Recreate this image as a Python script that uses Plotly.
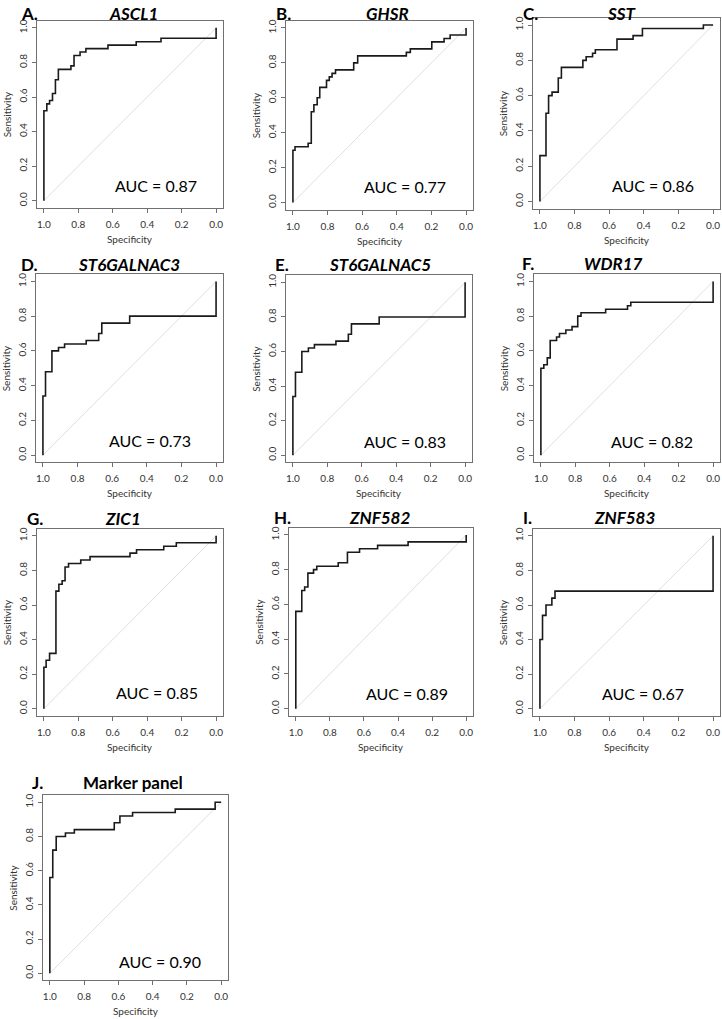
import plotly.graph_objects as go

W, H = 722, 1019

# ---------------- data ----------------
panel_letters = ["A.", "B.", "C.", "D.", "E.", "F.", "G.", "H.", "I.", "J."]
panel_names = ["ASCL1", "GHSR", "SST", "ST6GALNAC3", "ST6GALNAC5", "WDR17",
               "ZIC1", "ZNF582", "ZNF583", "Marker panel"]
auc_values = [0.87, 0.77, 0.86, 0.73, 0.83, 0.82, 0.85, 0.89, 0.67, 0.90]

spec_A = [1.0, 1.0, 0.983, 0.967, 0.95, 0.933, 0.916, 0.843, 0.825, 0.79, 0.756, 0.628, 0.464, 0.32, 0.0]
sens_A = [0.0, 0.52, 0.56, 0.58, 0.62, 0.70, 0.76, 0.78, 0.84, 0.86, 0.88, 0.90, 0.92, 0.94, 1.0]

spec_B = [1.0, 1.0, 0.988, 0.912, 0.894, 0.879, 0.86, 0.845, 0.806, 0.79, 0.774, 0.754, 0.649, 0.626, 0.345, 0.322, 0.198, 0.127, 0.092, 0.0]
sens_B = [0.0, 0.30, 0.32, 0.34, 0.52, 0.56, 0.60, 0.66, 0.70, 0.72, 0.74, 0.76, 0.80, 0.84, 0.86, 0.88, 0.92, 0.94, 0.96, 1.0]

spec_C = [1.0, 1.0, 0.965, 0.95, 0.93, 0.894, 0.876, 0.752, 0.733, 0.696, 0.68, 0.555, 0.462, 0.408, 0.056, 0.0]
sens_C = [0.0, 0.26, 0.50, 0.60, 0.62, 0.70, 0.76, 0.80, 0.82, 0.84, 0.86, 0.92, 0.94, 0.98, 1.0, 1.0]

spec_D = [1.0, 1.0, 0.985, 0.948, 0.91, 0.875, 0.75, 0.678, 0.66, 0.499, 0.0]
sens_D = [0.0, 0.34, 0.48, 0.60, 0.62, 0.64, 0.66, 0.70, 0.76, 0.80, 1.0]

spec_E = [1.0, 1.0, 0.985, 0.948, 0.91, 0.875, 0.75, 0.678, 0.66, 0.499, 0.0]
sens_E = [0.0, 0.34, 0.48, 0.60, 0.62, 0.64, 0.66, 0.70, 0.76, 0.80, 1.0]

spec_F = [1.0, 1.0, 0.983, 0.963, 0.946, 0.909, 0.892, 0.855, 0.819, 0.786, 0.767, 0.624, 0.497, 0.478, 0.0]
sens_F = [0.0, 0.50, 0.52, 0.56, 0.66, 0.68, 0.70, 0.72, 0.74, 0.80, 0.82, 0.84, 0.86, 0.88, 1.0]

spec_G = [1.0, 1.0, 0.987, 0.967, 0.93, 0.913, 0.894, 0.877, 0.857, 0.786, 0.732, 0.5, 0.462, 0.304, 0.231, 0.0]
sens_G = [0.0, 0.24, 0.28, 0.32, 0.68, 0.72, 0.74, 0.82, 0.84, 0.86, 0.88, 0.90, 0.92, 0.94, 0.96, 1.0]

spec_H = [1.0, 1.0, 0.965, 0.948, 0.929, 0.896, 0.877, 0.751, 0.697, 0.626, 0.52, 0.341, 0.0]
sens_H = [0.0, 0.56, 0.68, 0.70, 0.78, 0.80, 0.82, 0.84, 0.90, 0.92, 0.94, 0.96, 1.0]

spec_I = [1.0, 1.0, 0.985, 0.965, 0.931, 0.913, 0.0]
sens_I = [0.0, 0.40, 0.54, 0.60, 0.64, 0.68, 1.0]

spec_J = [1.0, 1.0, 0.983, 0.963, 0.909, 0.857, 0.624, 0.591, 0.517, 0.268, 0.035, 0.0]
sens_J = [0.0, 0.56, 0.72, 0.80, 0.82, 0.84, 0.88, 0.92, 0.94, 0.96, 1.0, 1.0]

specs = [spec_A, spec_B, spec_C, spec_D, spec_E, spec_F, spec_G, spec_H, spec_I, spec_J]
senss = [sens_A, sens_B, sens_C, sens_D, sens_E, sens_F, sens_G, sens_H, sens_I, sens_J]

chance_spec = [1.0, 0.0]
chance_sens = [0.0, 1.0]

tick_vals = [0.0, 0.2, 0.4, 0.6, 0.8, 1.0]
tick_text = ["0.0", "0.2", "0.4", "0.6", "0.8", "1.0"]

# ---------------- layout geometry (pixels) ----------------
boxes = [  # left, right, top, bottom
    (37, 223, 19, 206), (286, 473, 19, 208), (533, 720, 16, 207),
    (36, 223, 273, 461), (286, 472, 274, 461), (534, 720, 273, 461),
    (37, 223, 528, 715), (289, 473, 527, 715), (533, 720, 528, 715),
    (43, 228, 795, 980),
]
titles_pos = [  # letter cx, name cx, cy
    (29, 133, 7), (283, 387, 8), (530, 622, 7),
    (29, 129, 263), (282, 380, 263), (528, 613, 262),
    (35, 123, 518), (282, 379, 517), (527, 624, 517),
    (37, 133, 782),
]
auc_pos = [(0.349, 0.085), (0.351, 0.092), (0.346, 0.092), (0.38, 0.087), (0.348, 0.082),
           (0.353, 0.081), (0.343, 0.092), (0.347, 0.087), (0.404, 0.09), (0.359, 0.07)]

FONT = "Lato"
BOX = "#707070"
TXT = "#333333"

def px(x):
    return x / W

def py(y):
    return 1 - y / H

fig = go.Figure()
annotations = []
layout = {}

for i in range(10):
    n = "" if i == 0 else str(i + 1)
    xa, ya = "x" + n, "y" + n
    L, R, T, B = boxes[i]
    fig.add_trace(go.Scatter(x=chance_spec, y=chance_sens, xaxis=xa, yaxis=ya, mode="lines",
                             line=dict(color="#e0e0e0", width=1), showlegend=False, hoverinfo="skip"))
    fig.add_trace(go.Scatter(x=specs[i], y=senss[i], xaxis=xa, yaxis=ya, mode="lines",
                             line=dict(color="#1a1a1a", width=1.6, shape="hv"), showlegend=False))
    common = dict(showgrid=False, zeroline=False, showline=True, mirror=True, linecolor=BOX,
                  linewidth=1, ticks="outside", ticklen=4, tickcolor=BOX, tickwidth=1,
                  tickvals=tick_vals, ticktext=tick_text, ticklabeloverflow="allow",
                  tickfont=dict(family=FONT, size=10, color=TXT))
    layout["xaxis" + n] = dict(common, domain=[px(L), px(R)], range=[1.04, -0.04],
                               anchor=ya, ticklabelstandoff=3)
    layout["yaxis" + n] = dict(common, domain=[py(B), py(T)], range=[-0.04, 1.04],
                               anchor=xa, tickangle=-90, ticklabelstandoff=1)
    lx, nx, cy = titles_pos[i]
    if cy < 15:
        ty, yanc = 1.0, "top"
    else:
        ty, yanc = py(cy), "middle"
    annotations.append(dict(x=px(lx), y=ty, xref="paper", yref="paper", text="<b>%s</b>" % panel_letters[i],
                            showarrow=False, xanchor="center", yanchor=yanc, borderpad=0,
                            font=dict(family=FONT, size=17, color="black")))
    name = "<b>%s</b>" % panel_names[i] if i == 9 else "<b><i>%s</i></b>" % panel_names[i]
    annotations.append(dict(x=px(nx), y=ty, xref="paper", yref="paper", text=name,
                            showarrow=False, xanchor="center", yanchor=yanc, borderpad=0,
                            font=dict(family=FONT, size=17, color="black")))
    ax_, ay_ = auc_pos[i]
    annotations.append(dict(x=ax_, y=ay_, xref=xa, yref=ya, text="AUC = %.2f" % auc_values[i],
                            showarrow=False, xanchor="center", yanchor="middle",
                            font=dict(family=FONT, size=16, color="black")))
    annotations.append(dict(x=px((L + R) / 2), y=py(B + 31), xref="paper", yref="paper", text="Specificity",
                            showarrow=False, xanchor="center", yanchor="middle",
                            font=dict(family=FONT, size=10, color=TXT)))
    annotations.append(dict(x=px(L - 30), y=py((T + B) / 2), xref="paper", yref="paper", text="Sensitivity",
                            showarrow=False, xanchor="center", yanchor="middle", textangle=-90,
                            font=dict(family=FONT, size=10, color=TXT)))

fig.update_layout(width=W, height=H, margin=dict(l=0, r=0, t=0, b=0),
                  paper_bgcolor="white", plot_bgcolor="white",
                  annotations=annotations, **layout)

fig.write_html("out.html", config={"displayModeBar": False},
               post_script="document.body.style.margin='0';document.body.style.padding='0';")
